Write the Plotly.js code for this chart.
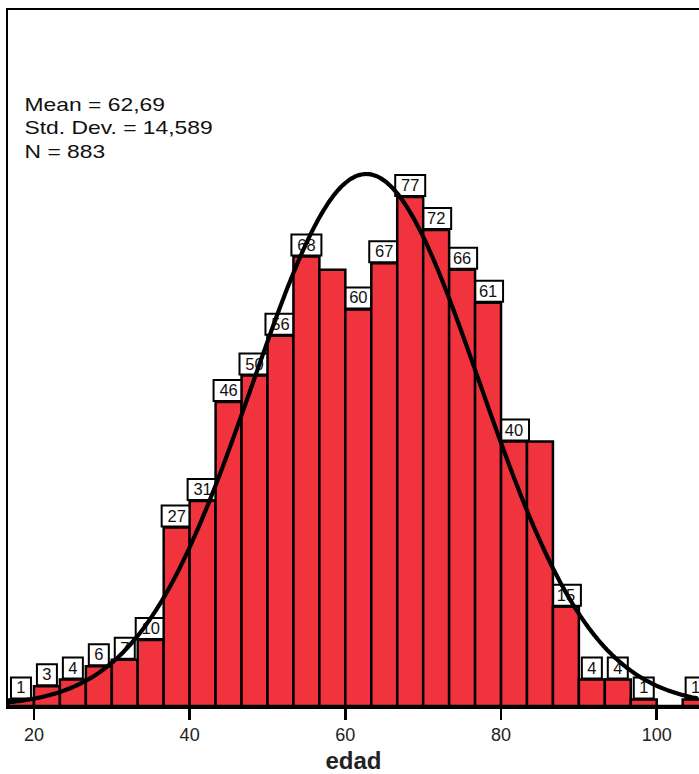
<!DOCTYPE html>
<html>
<head>
<meta charset="utf-8">
<script src="https://cdn.plot.ly/plotly-3.0.1.min.js"></script>
<style>
  html, body { margin: 0; padding: 0; background: #fff; overflow: hidden; }
  #chart { width: 699px; height: 774px; }
</style>
</head>
<body>
<div id="chart"></div>
<script>
// ---- data ----
const binCenters = [18.333, 21.667, 25, 28.333, 31.667, 35, 38.333, 41.667, 45, 48.333,
                    51.667, 55, 58.333, 61.667, 65, 68.333, 71.667, 75, 78.333, 81.667,
                    85, 88.333, 91.667, 95, 98.333, 101.667, 105];
const counts     = [1, 3, 4, 6, 7, 10, 27, 31, 46, 50,
                    56, 68, 66, 60, 67, 77, 72, 66, 61, 40,
                    40, 15, 4, 4, 1, 0, 1];
const labelShown = [1, 1, 1, 1, 1, 1, 1, 1, 1, 1,
                    1, 1, 0, 1, 1, 1, 1, 1, 1, 1,
                    0, 1, 1, 1, 1, 0, 1];
const binWidth = 10 / 3;
const xTicks = [20, 40, 60, 80, 100];
const statMean = 62.69;
const statSD = 14.589;
const statN = 883;
const statLines = ["Mean = 62,69", "Std. Dev. = 14,589", "N = 883"];
const xTitle = "edad";

// ---- normal curve defined by the stated mean / sd / N ----
const xMin = 16.667, xMax = 105.43;
const curveX = [], curveY = [];
for (let x = xMin; x <= xMax + 0.001; x += 0.2) {
  const z = (x - statMean) / statSD;
  curveX.push(x);
  curveY.push(statN * binWidth * Math.exp(-0.5 * z * z) / (statSD * Math.sqrt(2 * Math.PI)));
}

const FONT = "Liberation Sans, Arial, sans-serif";
const labelText = counts.map((c, i) => labelShown[i] ? String(c) : "");

const bars = {
  type: "bar",
  x: binCenters,
  y: counts,
  width: binCenters.map(() => binWidth),
  marker: { color: "#F0333D", line: { color: "#000", width: 2.5 } },
  text: labelText,
  textposition: "outside",
  constraintext: "none",
  cliponaxis: true,
  outsidetextfont: { family: FONT, size: 16.5, color: "#111" },
  hoverinfo: "x+y"
};

const curve = {
  type: "scatter",
  mode: "lines",
  x: curveX,
  y: curveY,
  line: { color: "#000", width: 4.2, shape: "spline" },
  hoverinfo: "skip"
};

// white label boxes behind the count labels
const shapes = [];
counts.forEach((c, i) => {
  if (!labelShown[i]) return;
  const w = String(c).length > 1 ? 30 : 20;
  shapes.push({
    type: "rect", layer: "below",
    xref: "x", yref: "y",
    xsizemode: "pixel", ysizemode: "pixel",
    xanchor: binCenters[i], yanchor: c,
    x0: -w / 2, x1: w / 2, y0: 1, y1: 22,
    fillcolor: "#fff",
    line: { color: "#000", width: 2 }
  });
});

const layout = {
  width: 699, height: 774,
  margin: { l: 8, r: 0, t: 10, b: 68 },
  paper_bgcolor: "#fff", plot_bgcolor: "#fff",
  showlegend: false,
  bargap: 0,
  font: { family: FONT, color: "#222" },
  xaxis: {
    range: [xMin, xMax],
    tickmode: "array", tickvals: xTicks, ticktext: xTicks.map(String),
    ticks: "outside", ticklen: 11, tickwidth: 2.5, tickcolor: "#000",
    tickfont: { family: FONT, size: 18, color: "#222" },
    showline: true, linecolor: "#000", linewidth: 2.5, mirror: true,
    showgrid: false, zeroline: false,
    title: { text: "<b>" + xTitle + "</b>", font: { family: FONT, size: 24, color: "#222" }, standoff: 9 }
  },
  yaxis: {
    range: [0, 105.3],
    showticklabels: false, ticks: "",
    showline: true, linecolor: "#000", linewidth: 2.5, mirror: false,
    showgrid: false, zeroline: false
  },
  shapes: shapes,
  annotations: [{
    xref: "paper", yref: "paper",
    x: (22 - 8) / 691, y: 1 - (129 - 10) / 696,
    xanchor: "left", yanchor: "middle", align: "left",
    showarrow: false,
    text: statLines.join("<br>"),
    font: { family: FONT, size: 18, color: "#111" }
  }]
};

Plotly.newPlot("chart", [bars, curve], layout, { displayModeBar: false, staticPlot: true }).then(() => {
  // the reference's statistics text is horizontally widened
  const ann = document.querySelector("#chart .annotation");
  if (ann) {
    ann.style.transformOrigin = "22px 0px";
    ann.style.transform = "scaleX(1.27)";
  }
});
</script>
</body>
</html>
